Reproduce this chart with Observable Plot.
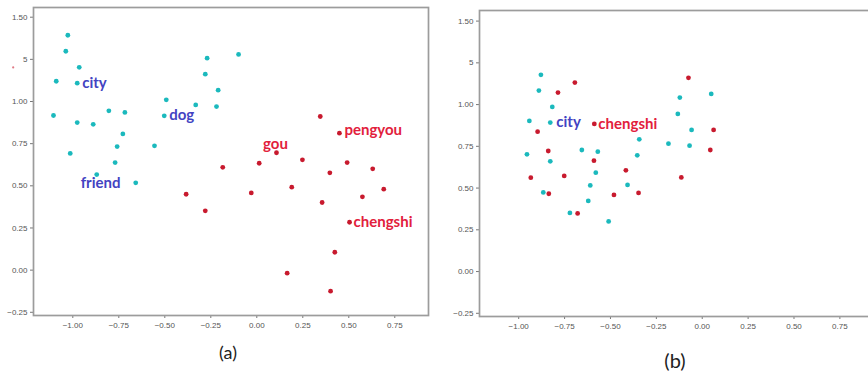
<!DOCTYPE html>
<html><head><meta charset="utf-8">
<script src="https://cdn.jsdelivr.net/npm/d3@7"></script>
<script src="https://cdn.jsdelivr.net/npm/@observablehq/plot@0.6"></script>
<style>
html,body{margin:0;padding:0;background:#fff;overflow:hidden;width:868px;height:374px;}
#wrap{position:relative;width:868px;height:374px;overflow:hidden;}
#pa{position:absolute;left:0;top:0;width:436px;}
#pb{position:absolute;left:440px;top:0;width:440px;}
#pa svg,#pb svg{max-width:none !important;}
.cap{position:absolute;font-family:Lato,"Open Sans",sans-serif;color:#222;transform:translate(-50%,-50%);white-space:nowrap;}
</style></head>
<body>
<div id="wrap"><div id="pa"></div><div id="pb"></div>
<div class="cap" id="capA" style="left:228px;top:352px;font-size:18px"></div>
<div class="cap" id="capB" style="left:675px;top:360px;font-size:20px"></div>
</div>
<script>
// ---- data ----
const panelNames = ["(a)", "(b)"];
const xTicks = [-1.0, -0.75, -0.5, -0.25, 0, 0.25, 0.5, 0.75];
const xTickLabels = ["−1.00", "−0.75", "−0.50", "−0.25", "0.00", "0.25", "0.50", "0.75"];
const yTicks = [-0.25, 0, 0.25, 0.5, 0.75, 1.0, 1.25, 1.5];
const yTickLabels = ["−0.25", "0.00", "0.25", "0.50", "0.75", "1.00", "5", "1.50"];

// panel (a): English words (cyan)
const aEnX = [-1.027,-1.038,-0.965,-1.090,-0.976,-1.105,-0.976,-0.889,-0.804,-0.717,-0.728,-0.759,-1.014,-0.770,-0.556,-0.492,-0.503,-0.332,-0.270,-0.280,-0.210,-0.219,-0.099,-0.870,-0.658];
const aEnY = [1.393,1.298,1.203,1.120,1.109,0.917,0.875,0.865,0.945,0.935,0.808,0.733,0.692,0.638,0.737,1.010,0.915,0.980,1.257,1.162,1.067,0.970,1.279,0.567,0.518];
// panel (a): pinyin words (red)
const aZhX = [-0.384,-0.280,-0.185,0.013,0.107,0.248,0.345,0.449,0.491,0.630,0.397,-0.030,0.190,0.355,0.574,0.690,0.504,0.424,0.165,0.401];
const aZhY = [0.450,0.352,0.610,0.634,0.696,0.654,0.911,0.812,0.638,0.601,0.577,0.458,0.492,0.401,0.435,0.480,0.284,0.106,-0.018,-0.125];
const aStrayX = [-1.324];
const aStrayY = [1.202];
const aLabelWords = ["city", "dog", "friend", "gou", "pengyou", "chengshi"];
const aLabelX = [-0.976, -0.503, -0.870, 0.107, 0.449, 0.504];
const aLabelY = [1.109, 0.915, 0.567, 0.696, 0.812, 0.284];
const aLabelLang = ["en", "en", "en", "zh", "zh", "zh"];

// panel (b)
const bEnX = [-0.879,-0.890,-0.817,-0.942,-0.828,-0.955,-0.656,-0.569,-0.828,-0.580,-0.610,-0.866,-0.621,-0.721,-0.510,-0.122,0.049,-0.133,-0.058,-0.343,-0.184,-0.069,-0.354,-0.407];
const bEnY = [1.178,1.084,0.986,0.902,0.892,0.702,0.728,0.718,0.660,0.592,0.516,0.474,0.423,0.351,0.300,1.042,1.064,0.944,0.848,0.792,0.766,0.754,0.696,0.519];
const bZhX = [-0.694,-0.786,-0.588,-0.897,-0.839,-0.590,-0.934,-0.752,-0.836,-0.481,-0.679,-0.075,0.062,0.044,-0.416,-0.114,-0.347];
const bZhY = [1.132,1.072,0.884,0.838,0.722,0.664,0.562,0.573,0.466,0.459,0.348,1.160,0.848,0.728,0.606,0.564,0.471];
const bLabelWords = ["city", "chengshi"];
const bLabelX = [-0.828, -0.588];
const bLabelY = [0.892, 0.884];
const bLabelLang = ["en", "zh"];

// ---- styles ----
const CYAN = "#1bb9bd", RED = "#c81a2e";
const LBL_EN = "#4343c2", LBL_ZH = "#e2203c";
const offA = {city:{dx:5,dy:0,a:"start"}, dog:{dx:5,dy:-1,a:"start"}, friend:{dx:-16,dy:9,a:"start"},
              gou:{dx:-1,dy:-9,a:"middle"}, pengyou:{dx:5,dy:-3,a:"start"}, chengshi:{dx:4,dy:-0.5,a:"start"}};
const offB = {city:{dx:6,dy:0,a:"start"}, chengshi:{dx:4,dy:0,a:"start"}};

const pts = (xs, ys) => xs.map((x, i) => ({x, y: ys[i]}));
const fmtX = d => xTickLabels[xTicks.indexOf(d)];
const fmtY = d => yTickLabels[yTicks.indexOf(d)];

function labelMarks(words, xs, ys, langs, off) {
  return words.map((w, i) => {
    const o = off[w];
    return Plot.text([{x: xs[i], y: ys[i], w}], {
      x: "x", y: "y", text: "w", dx: o.dx, dy: o.dy, textAnchor: o.a,
      fill: langs[i] === "en" ? LBL_EN : LBL_ZH,
      fontWeight: "bold", fontSize: 15, fontFamily: "Lato"
    });
  });
}

function panel(opts) {
  return Plot.plot({
    width: opts.width, height: 337,
    marginLeft: opts.ml, marginRight: opts.mr, marginTop: opts.mt, marginBottom: 337 - opts.bottom,
    x: {domain: [-1.2136, 0.9332], label: null},
    y: {domain: opts.ydom, label: null},
    style: {background: "transparent", overflow: "visible", fontFamily: "Liberation Sans", fontSize: "8px", color: "#555", maxWidth: "none"},
    marks: [
      Plot.axisX({ticks: xTicks, tickFormat: fmtX, tickSize: 3, tickPadding: 4, stroke: "#777", label: null}),
      Plot.axisY({ticks: yTicks, tickFormat: fmtY, tickSize: 3, tickPadding: 3, stroke: "#777", label: null}),
      Plot.frame({stroke: "#9c9c9c", strokeWidth: 1.7}),
      ...opts.marks
    ]
  });
}

const svgA = panel({
  width: 436, ml: 33, mr: 8, mt: 7, bottom: 315, ydom: [-0.269, 1.5575],
  marks: [
    Plot.dot(pts(aEnX, aEnY), {x: "x", y: "y", r: 2.4, fill: CYAN}),
    Plot.dot(pts(aZhX, aZhY), {x: "x", y: "y", r: 2.4, fill: RED}),
    Plot.dot(pts(aStrayX, aStrayY), {x: "x", y: "y", r: 1.1, fill: "#e07a86"}),
    ...labelMarks(aLabelWords, aLabelX, aLabelY, aLabelLang, offA)
  ]
});
const svgB = panel({
  width: 440, ml: 39, mr: 7, mt: 10, bottom: 316, ydom: [-0.2692, 1.5635],
  marks: [
    Plot.dot(pts(bEnX, bEnY), {x: "x", y: "y", r: 2.4, fill: CYAN}),
    Plot.dot(pts(bZhX, bZhY), {x: "x", y: "y", r: 2.4, fill: RED}),
    ...labelMarks(bLabelWords, bLabelX, bLabelY, bLabelLang, offB)
  ]
});
document.getElementById("pa").appendChild(svgA);
document.getElementById("pb").appendChild(svgB);
document.getElementById("capA").textContent = panelNames[0];
document.getElementById("capB").textContent = panelNames[1];
</script>
</body></html>
